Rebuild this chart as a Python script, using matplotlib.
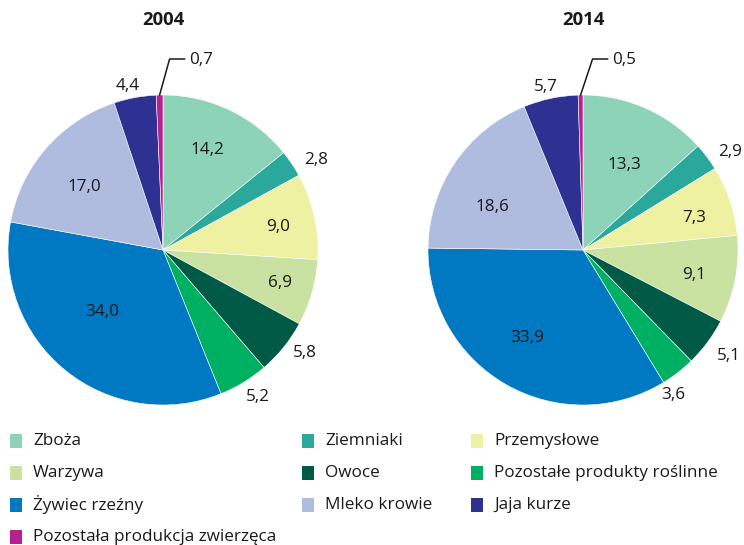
import matplotlib
matplotlib.use("Agg")
import matplotlib.pyplot as plt
from matplotlib.patches import Rectangle
import numpy as np

categories = ["Zboża", "Ziemniaki", "Przemysłowe", "Warzywa", "Owoce",
              "Pozostałe produkty roślinne", "Żywiec rzeźny", "Mleko krowie",
              "Jaja kurze", "Pozostała produkcja zwierzęca"]
values_2004 = [14.2, 2.8, 9.0, 6.9, 5.8, 5.2, 34.0, 17.0, 4.4, 0.7]
values_2014 = [13.3, 2.9, 7.3, 9.1, 5.1, 3.6, 33.9, 18.6, 5.7, 0.5]
years = ["2004", "2014"]

colors = ["#8dd3b8", "#2aa89c", "#eef0a2", "#c9e2a2", "#005a46",
          "#00b062", "#0079c2", "#b0bcdf", "#2e3192", "#b5228f"]

plt.rcParams['font.family'] = ['Open Sans', 'DejaVu Sans']

W, H = 744, 545
fig = plt.figure(figsize=(W / 100, H / 100), dpi=100)
ax = fig.add_axes([0, 0, 1, 1])

# layout (pixel coords, y measured from top)
centers = [(163, 250), (583, 250)]
radius = 155
# label placement: (distance factor relative to radius, angle offset in degrees)
label_pos = [
    [(0.705, 1.8), (1.145, -3.3), (0.757, -1.3), (0.784, 0.3), (1.13, 2.9),
     (1.13, 1.6), (0.561, -5.3), (0.652, 2.4), (1.082, 1.6), None],
    [(0.609, -1.8), (1.14, -3.2), (0.745, -2.4), (0.734, -1.7), (1.16, 0.6),
     (1.10, -6.0), (0.673, -2.8), (0.649, 8.9), (1.078, 0.7), None],
]
leader_dx = [10, 12]
label_fs = 12.3
text_color = '#1a1a1a'

def fmt(v):
    return f"{v:.1f}".replace(".", ",")

for k, (vals, (cx, cy)) in enumerate(zip([values_2004, values_2014], centers)):
    yc = H - cy
    wedges, _ = ax.pie(vals, colors=colors, startangle=90, counterclock=False,
                       center=(cx, yc), radius=radius,
                       wedgeprops=dict(linewidth=0.4, edgecolor='white'))
    ax.text(cx, H - 20, years[k], ha='center', va='center', fontsize=13.3,
            fontweight='bold', color=text_color)
    for i, w in enumerate(wedges):
        mid = (w.theta1 + w.theta2) / 2
        lp = label_pos[k][i]
        if lp is None:
            ang = np.deg2rad(mid)
            x0 = cx + radius * np.cos(ang)
            y0 = yc + radius * np.sin(ang)
            x1, y1 = x0 + leader_dx[k], H - 59
            x2 = x1 + 15
            ax.plot([x0, x1, x2], [y0, y1, y1], color=text_color, lw=1.1)
            ax.text(x2 + 5, y1 - 1, fmt(vals[i]), ha='left', va='center',
                    fontsize=label_fs, color=text_color)
            continue
        rf, off = lp
        ang = np.deg2rad(mid + off)
        x = cx + rf * radius * np.cos(ang)
        y = yc + rf * radius * np.sin(ang)
        ax.text(x, y, fmt(vals[i]), ha='center', va='center',
                fontsize=label_fs, color=text_color)

# legend drawn as swatches + text, read row-wise in 3 columns
col_x = [10, 302, 471]
row_y = [441, 473, 505, 537]
sw, sh = 12, 14
for idx, cat in enumerate(categories):
    r, c = divmod(idx, 3)
    x = col_x[c]
    y = H - row_y[r]
    ax.add_patch(Rectangle((x, y - sh / 2), sw, sh, facecolor=colors[idx],
                           edgecolor='none'))
    ax.text(x + sw + 11, y, cat, ha='left', va='center', fontsize=label_fs,
            color=text_color)

ax.set_xlim(0, W)
ax.set_ylim(0, H)
ax.set_aspect('equal')
ax.axis('off')

fig.savefig("out.png", dpi=100)
